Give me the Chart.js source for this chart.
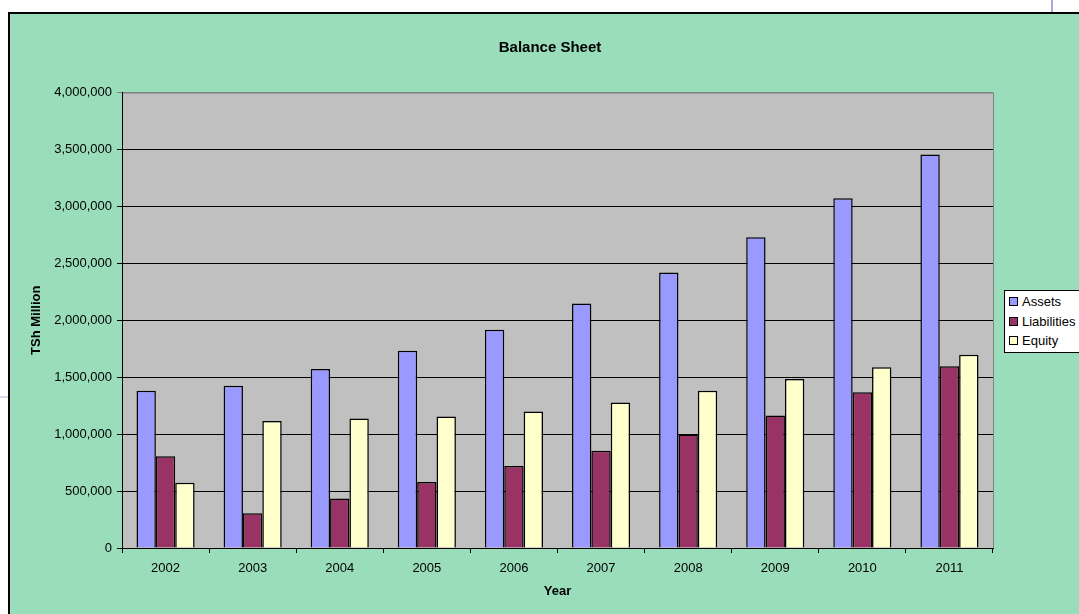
<!DOCTYPE html>
<html>
<head>
<meta charset="utf-8">
<script src="https://cdn.jsdelivr.net/npm/chart.js@4"></script>
<style>
  html, body { margin:0; padding:0; width:1079px; height:614px; overflow:hidden; background:#fff; }
  #frame { position:absolute; left:8px; top:12px; width:1200px; height:700px; background:#99DDBB;
           border-left:2px solid #000; border-top:2px solid #000; }
  #deco1 { position:absolute; left:1051px; top:0; width:2px; height:12px; background:#a8a8dc; }
  #deco2 { position:absolute; left:0; top:396px; width:8px; height:2px; background:#d8d8ee; }
  #wrap { position:absolute; left:0; top:0; width:1100px; height:614px; }
  #legend { position:absolute; left:1004px; top:290px; width:100px; height:61px; background:#fff;
            border:1px solid #000; font-family:"Liberation Sans", Arial, sans-serif; font-size:13px; color:#000; }
  .item { position:absolute; left:4px; height:16px; line-height:16px; white-space:nowrap; }
  .sw { display:inline-block; width:7px; height:7px; border:1px solid #000; margin-right:4px; vertical-align:0px; }
</style>
</head>
<body>
<div id="frame"></div>
<div id="deco1"></div>
<div id="deco2"></div>
<div id="wrap"><canvas id="c" width="1100" height="614"></canvas></div>
<div id="legend"></div>
<script>
const years = ['2002','2003','2004','2005','2006','2007','2008','2009','2010','2011'];
const assets = [1380000, 1424000, 1571000, 1732000, 1916000, 2148000, 2420000, 2728000, 3071000, 3455000];
const liabilities = [806000, 305000, 434000, 580000, 721000, 853000, 996000, 1163000, 1368000, 1597000];
const equity = [574000, 1116000, 1137000, 1154000, 1198000, 1277000, 1380000, 1483000, 1588000, 1697000];
const seriesNames = ['Assets', 'Liabilities', 'Equity'];
const seriesColors = ['#9999FF', '#993366', '#FFFFCC'];
const yTicks = [0, 500000, 1000000, 1500000, 2000000, 2500000, 3000000, 3500000, 4000000];

const FONT = '"Liberation Sans", Arial, sans-serif';

const plotBg = {
  id: 'plotBg',
  beforeDraw(chart) {
    const a = chart.chartArea, ctx = chart.ctx;
    ctx.save();
    ctx.fillStyle = '#C0C0C0';
    ctx.fillRect(a.left, a.top, a.right - a.left, a.bottom - a.top);
    ctx.strokeStyle = '#808080';
    ctx.lineWidth = 1;
    ctx.beginPath();
    ctx.moveTo(a.left, a.top + 0.5); ctx.lineTo(a.right + 0.5, a.top + 0.5);
    ctx.lineTo(a.right + 0.5, a.bottom);
    ctx.stroke();
    ctx.restore();
  }
};

const dataSeries = [assets, liabilities, equity];
new Chart(document.getElementById('c'), {
  type: 'bar',
  data: {
    labels: years,
    datasets: seriesNames.map((n, i) => ({
      label: n, data: dataSeries[i], backgroundColor: seriesColors[i],
      borderColor: '#000', borderWidth: 1.5, yAxisID: 'y'
    }))
  },
  options: {
    responsive: false,
    animation: false,
    layout: { padding: 0 },
    datasets: { bar: { categoryPercentage: 0.667, barPercentage: 1.0 } },
    plugins: {
      legend: { display: false },
      tooltip: { enabled: false },
      title: {
        display: true, text: 'Balance Sheet', color: '#000',
        font: { family: FONT, size: 15, weight: 'bold', lineHeight: 1.2 },
        padding: { top: 39, bottom: 35.5 }
      }
    },
    scales: {
      x: {
        offset: true,
        grid: { offset: true, drawOnChartArea: false, drawTicks: true, tickLength: 5, color: '#000' },
        border: { display: true, color: '#000', width: 1 },
        ticks: { color: '#000', font: { family: FONT, size: 13 }, padding: 8, maxRotation: 0 },
        title: { display: true, text: 'Year', color: '#000',
                 font: { family: FONT, size: 13, weight: 'bold', lineHeight: 1.2 }, padding: { top: 0, bottom: 15 } },
        afterFit(s) { s.height = 66; }
      },
      y: {
        position: 'left',
        min: 0, max: 4000000,
        afterBuildTicks(s) { s.ticks = yTicks.map(v => ({ value: v })); },
        grid: { color: (c) => (c.tick && c.tick.value === 4000000) ? '#808080' : '#000', lineWidth: 1, tickLength: 5, drawTicks: true },
        border: { display: true, color: '#000', width: 1 },
        ticks: { color: '#000', font: { family: FONT, size: 13 }, padding: 5,
                 callback: (v) => Number(v).toLocaleString('en-US') },
        title: { display: true, text: 'TSh Million', color: '#000',
                 font: { family: FONT, size: 13, weight: 'bold', lineHeight: 1.2 }, padding: { top: 29 } },
        afterFit(s) { s.width = 122; }
      },
      yRight: {
        position: 'right',
        display: true,
        grid: { display: false, drawTicks: false },
        border: { display: false },
        ticks: { display: false },
        afterFit(s) { s.width = 107; }
      }
    }
  },
  plugins: [plotBg]
});

const legend = document.getElementById('legend');
seriesNames.forEach((n, i) => {
  const d = document.createElement('div');
  d.className = 'item';
  d.style.top = (3 + i * 19.5) + 'px';
  const sw = document.createElement('span');
  sw.className = 'sw';
  sw.style.background = seriesColors[i];
  d.appendChild(sw);
  d.appendChild(document.createTextNode(n));
  legend.appendChild(d);
});
</script>
</body>
</html>
